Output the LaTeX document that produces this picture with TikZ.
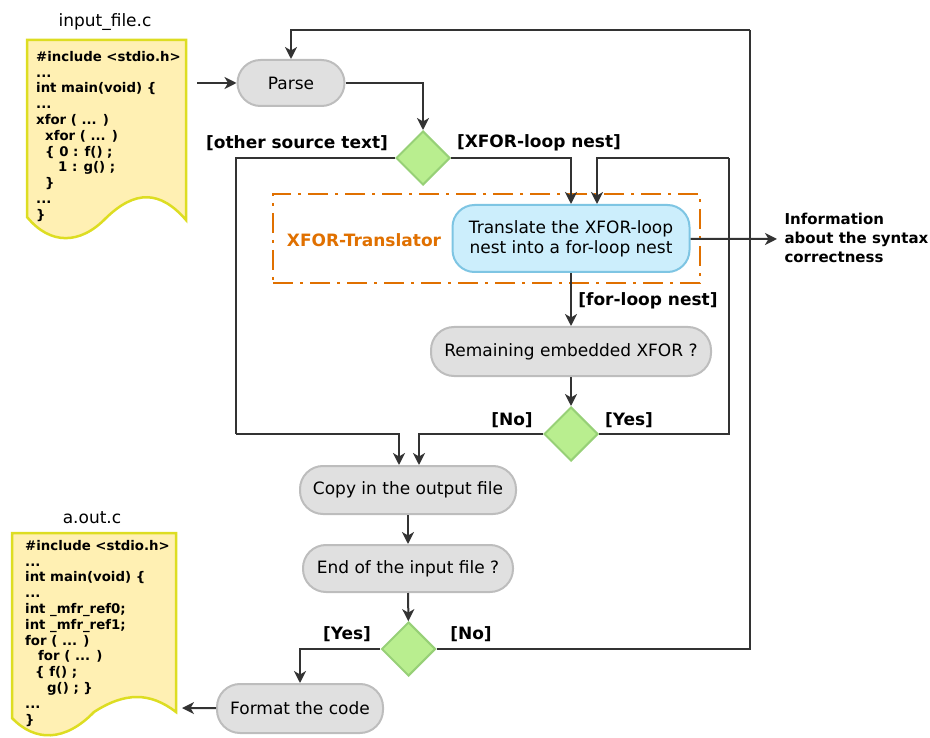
\documentclass[tikz,border=0pt]{standalone}
\usepackage{fontspec}
\setmainfont{DejaVu Sans}
\usetikzlibrary{arrows.meta,shapes.geometric}

\definecolor{actfill}{HTML}{E0E0E0}
\definecolor{actdraw}{HTML}{BDBDBD}
\definecolor{decfill}{HTML}{B9EE8F}
\definecolor{decdraw}{HTML}{97D077}
\definecolor{trfill}{HTML}{CCEEFC}
\definecolor{trdraw}{HTML}{7EC5E3}
\definecolor{docfill}{HTML}{FFF0B3}
\definecolor{docdraw}{HTML}{DDDD22}
\definecolor{xorange}{HTML}{E07000}
\definecolor{lnk}{HTML}{333333}

\begin{document}
\begin{tikzpicture}[x=1pt,y=-1pt,
	font=\fontsize{17}{20}\selectfont,
	act/.style={draw=actdraw, fill=actfill, line width=2pt, rounded corners=23pt,
		minimum height=47pt, inner sep=0pt, align=center},
	dec/.style={diamond, draw=decdraw, fill=decfill, line width=2pt,
		minimum width=54pt, minimum height=54pt, inner sep=0pt},
	trans/.style={draw=trdraw, fill=trfill, line width=2pt, rounded corners=22pt,
		minimum width=237pt, minimum height=67pt, inner sep=0pt, align=center},
	xbox/.style={draw=xorange, line width=2pt,
		dash pattern=on 20pt off 7pt on 3pt off 7pt},
	doc/.style={draw=docdraw, fill=docfill, line width=2.5pt},
	code/.style={font=\fontsize{13.3}{15.8}\selectfont\bfseries, align=left,
		inner sep=0pt, anchor=north west},
	guard/.style={font=\fontsize{17}{20}\selectfont\bfseries},
	flow/.style={draw=lnk, line width=2pt, -{Stealth[length=12pt,width=12pt,inset=3.5pt]}},
	link/.style={draw=lnk, line width=2pt}]
\useasboundingbox (0,0) rectangle (930,738);

%========================================
% Source files
%========================================
% input file
\node (inName) at (105,22) {input\_file.c};
\draw[doc] (27,40) -- (186,40) -- (186,220)
	.. controls (160,190) and (135,190) .. (106,218)
	.. controls (80,245) and (50,245) .. (27,217) -- cycle;
\node[code] (inCode) at (36,51) {\#include <stdio.h>\\
	...\\
	int main(void) \{\\
	...\\
	xfor ( ... )\\
	\hspace*{9pt}xfor ( ... )\\
	\hspace*{9pt}\{ 0 : f() ;\\
	\hspace*{22pt}1 : g() ;\\
	\hspace*{9pt}\}\\
	...\\
	\}};
\coordinate (inOut) at (197,83);

% output file
\node (outName) at (92,518) {a.out.c};
\draw[doc] (12,533) -- (176,533) -- (176,712)
	.. controls (150,692) and (125,692) .. (94,712)
	.. controls (65,742) and (35,742) .. (12,718) -- cycle;
\node[code] (outCode) at (25,540) {\#include <stdio.h>\\
	...\\
	int main(void) \{\\
	...\\
	int \_mfr\_ref0;\\
	int \_mfr\_ref1;\\
	for ( ... )\\
	\hspace*{13pt}for ( ... )\\
	\hspace*{10pt}\{ f() ;\\
	\hspace*{22pt}g() ; \}\\
	...\\
	\}};
\coordinate (outIn) at (182,708);

%========================================
% Activities and decisions
%========================================
\node[act, minimum width=107pt, minimum height=46pt] (parse) at (291,83) {Parse};
\node[dec] (dec1) at (423,158) {};
\node[guard] (otherLbl) at (297,143) {[other source text]};
\node[guard] (xforLbl) at (539,143) {[XFOR-loop nest]};

% translator box
\node[xbox, minimum width=427pt, minimum height=89pt] (xforBox) at (486.5,238.5) {};
\node[font=\fontsize{17}{20}\selectfont\bfseries, text=xorange] (xforName) at (364,240) {XFOR-Translator};
\node[trans] (trans) at (571,238.5) {Translate the XFOR-loop\\nest into a for-loop nest};
\coordinate (infoIn) at (777,239);
\node[font=\fontsize{15}{19}\selectfont\bfseries, align=left, anchor=west] (info) at (781,238)
	{Information\\about the syntax\\correctness};

\node[guard] (forLbl) at (648,301) {[for-loop nest]};
\node[act, minimum width=280pt, minimum height=49pt] (remain) at (571,351.5) {Remaining embedded XFOR ?};
\node[dec] (dec2) at (571,434) {};
\node[guard] (noLbl) at (512,420) {[No]};
\node[guard] (yesLbl) at (629,420) {[Yes]};

\node[act, minimum width=216pt, minimum height=48pt] (copy) at (408,490) {Copy in the output file};
\node[act, minimum width=210pt] (endf) at (408,568.5) {End of the input file ?};
\node[dec] (dec3) at (408.5,649) {};
\node[guard] (yes3Lbl) at (347,634) {[Yes]};
\node[guard] (no3Lbl) at (471,634) {[No]};
\node[act, minimum width=166pt, minimum height=49pt] (format) at (300,708.5) {Format the code};

%========================================
% Connectors
%========================================
\coordinate (otherTurn) at (236,434);
\coordinate (yesTurn) at (729,158);
\coordinate (noTurn) at (750,30);

\draw[flow] (inOut) -- (parse);
\draw[flow] (parse) -| (dec1);
\draw[flow] (dec1) -| (trans);
\draw[link] (dec1) -| (otherTurn);
\draw[flow] (otherTurn) -| ([xshift=-9pt]copy.north);
\draw[flow] (trans) -- (infoIn);
\draw[flow] (trans) -- (remain);
\draw[flow] (remain) -- (dec2);
\draw[link] (dec2) -| (yesTurn);
\draw[flow] (yesTurn) -| ([xshift=26pt]trans.north);
\draw[flow] (dec2) -| ([xshift=11pt]copy.north);
\draw[flow] (copy) -- (endf);
\draw[flow] (endf) -- (dec3);
\draw[flow] (dec3) -| (format);
\draw[link] (dec3) -| (noTurn);
\draw[flow] (noTurn) -| (parse);
\draw[flow] (format) -- (outIn);

\end{tikzpicture}
\end{document}
